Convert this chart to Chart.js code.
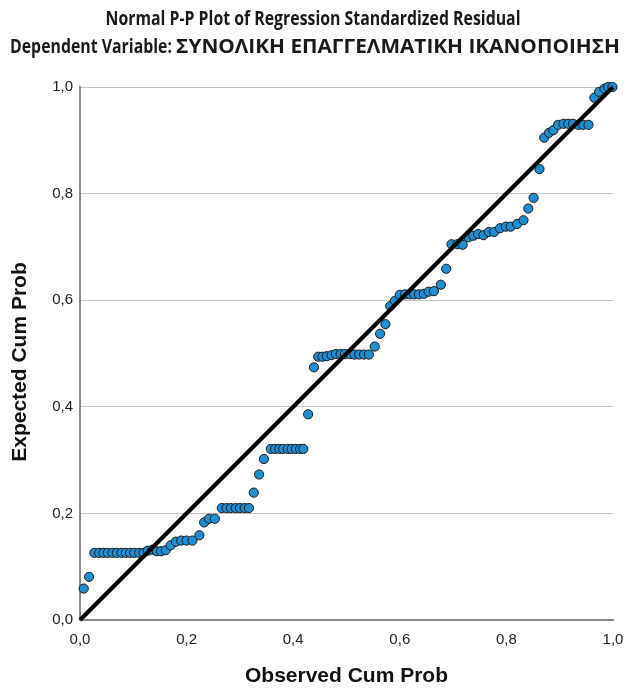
<!DOCTYPE html>
<html>
<head>
<meta charset="utf-8">
<script src="https://cdn.jsdelivr.net/npm/chart.js@4.4.1/dist/chart.umd.min.js"></script>
<style>
  html, body { margin: 0; padding: 0; background: #ffffff; }
  #wrap { width: 627px; height: 688px; position: relative; }
</style>
</head>
<body>
<div id="wrap"><canvas id="c" width="627" height="688"></canvas></div>
<script>
const titleLines = [
  "Normal P-P Plot of Regression Standardized Residual",
  "Dependent Variable: ΣΥΝΟΛΙΚΗ ΕΠΑΓΓΕΛΜΑΤΙΚΗ ΙΚΑΝΟΠΟΙΗΣΗ"
];
const xAxisTitle = "Observed Cum Prob";
const yAxisTitle = "Expected Cum Prob";
const tickValues = [0.0, 0.2, 0.4, 0.6, 0.8, 1.0];

const observedCumProb = [
  0.007, 0.017,
  0.027, 0.036, 0.044, 0.052, 0.061, 0.069, 0.078, 0.086, 0.094, 0.102, 0.111, 0.119,
  0.127, 0.136, 0.144, 0.152, 0.161, 0.170, 0.180, 0.190, 0.200, 0.211, 0.224, 0.233, 0.242, 0.253,
  0.266, 0.275, 0.283, 0.292, 0.300, 0.309, 0.317,
  0.326, 0.336, 0.345,
  0.358, 0.366, 0.374, 0.381, 0.390, 0.397, 0.405, 0.413, 0.419,
  0.428, 0.439,
  0.447, 0.455, 0.463, 0.472, 0.480, 0.489, 0.497, 0.507, 0.515, 0.524, 0.533, 0.542,
  0.553, 0.563, 0.573, 0.582, 0.591,
  0.600, 0.610, 0.619, 0.627, 0.636, 0.645,
  0.654, 0.664, 0.677, 0.687, 0.697, 0.708, 0.718,
  0.729, 0.738, 0.747, 0.757, 0.767, 0.777, 0.788, 0.799, 0.808, 0.820, 0.832,
  0.841, 0.851, 0.862, 0.871,
  0.880, 0.888, 0.897, 0.907, 0.916, 0.925, 0.935, 0.944, 0.954,
  0.965, 0.974, 0.984, 0.991, 0.999
];
const expectedCumProb = [
  0.059, 0.081,
  0.126, 0.126, 0.126, 0.126, 0.126, 0.126, 0.126, 0.126, 0.126, 0.126, 0.126, 0.126,
  0.130, 0.132, 0.129, 0.129, 0.131, 0.140, 0.147, 0.149, 0.149, 0.149, 0.159, 0.183, 0.190, 0.190,
  0.210, 0.210, 0.210, 0.210, 0.210, 0.210, 0.210,
  0.239, 0.273, 0.302,
  0.321, 0.321, 0.321, 0.321, 0.321, 0.321, 0.321, 0.321, 0.321,
  0.386, 0.474,
  0.494, 0.494, 0.495, 0.497, 0.499, 0.499, 0.499, 0.499, 0.498, 0.498, 0.498, 0.498,
  0.513, 0.537, 0.555, 0.589, 0.599,
  0.610, 0.611, 0.611, 0.611, 0.611, 0.612,
  0.616, 0.617, 0.629, 0.659, 0.705, 0.705, 0.704,
  0.718, 0.721, 0.724, 0.722, 0.728, 0.728, 0.735, 0.738, 0.738, 0.743, 0.750,
  0.772, 0.792, 0.846, 0.905,
  0.914, 0.919, 0.929, 0.931, 0.931, 0.931, 0.929, 0.929, 0.929,
  0.980, 0.991, 0.997, 1.000, 1.000
];
const diagonalX = [0, 1];
const diagonalY = [0, 1];

const points = observedCumProb.map((x, i) => ({ x: x, y: expectedCumProb[i] }));
const diagonal = diagonalX.map((x, i) => ({ x: x, y: diagonalY[i] }));
const fmt = v => Number(v).toFixed(1).replace('.', ',');

// Draws the two-line chart title and the vertical axis title as canvas text.
const textPlugin = {
  id: 'textPlugin',
  afterDraw(chart) {
    const ctx = chart.ctx;
    ctx.save();
    ctx.fillStyle = '#1a1a1a';
    ctx.textBaseline = 'alphabetic';
    ctx.textAlign = 'left';
    ctx.font = 'bold 19px "Open Sans"';

    // line 1 : condensed latin
    const l1 = titleLines[0];
    const l1W = 415;
    const latinScale = l1W / ctx.measureText(l1).width;
    ctx.save();
    ctx.translate(313 - l1W / 2, 25);
    ctx.scale(latinScale, 1);
    ctx.fillText(l1, 0, 0);
    ctx.restore();

    // line 2 : latin prefix + wider greek part
    const l2 = titleLines[1];
    const cut = l2.indexOf(':') + 2;
    const prefix = l2.slice(0, cut);
    const greek = l2.slice(cut);
    const prefixW = ctx.measureText(prefix).width * latinScale;
    const x0 = 10, x1 = 620;
    ctx.save();
    ctx.translate(x0, 53);
    ctx.scale(latinScale, 1);
    ctx.fillText(prefix, 0, 0);
    ctx.restore();
    const greekScale = (x1 - x0 - prefixW) / ctx.measureText(greek).width;
    ctx.save();
    ctx.translate(x0 + prefixW, 53);
    ctx.scale(greekScale, 1);
    ctx.fillText(greek, 0, 0);
    ctx.restore();

    // y axis title
    ctx.fillStyle = '#111111';
    ctx.font = 'bold 21px "Liberation Sans"';
    ctx.textAlign = 'center';
    ctx.textBaseline = 'middle';
    ctx.translate(20, 362);
    ctx.rotate(-Math.PI / 2);
    ctx.fillText(yAxisTitle, 0, 0);
    ctx.restore();
  }
};

new Chart(document.getElementById('c'), {
  type: 'scatter',
  data: {
    datasets: [
      {
        type: 'line',
        data: diagonal,
        borderColor: '#000000',
        borderWidth: 4,
        pointRadius: 0,
        fill: false,
        order: 0,
        clip: false
      },
      {
        type: 'scatter',
        data: points,
        backgroundColor: '#1f8dd0',
        borderColor: '#1a1a1a',
        borderWidth: 1,
        pointRadius: 4.6,
        order: 1,
        clip: false
      }
    ]
  },
  plugins: [textPlugin],
  options: {
    responsive: false,
    animation: false,
    devicePixelRatio: 1,
    layout: { padding: { left: 0, right: 14, top: 87, bottom: 0 } },
    plugins: {
      legend: { display: false },
      tooltip: { enabled: false },
      title: { display: false }
    },
    scales: {
      x: {
        type: 'linear',
        min: 0, max: 1,
        afterFit: s => { s.height = 68; s.paddingRight = 0; s.paddingLeft = 0; },
        afterBuildTicks: s => { s.ticks = tickValues.map(v => ({ value: v })); },
        grid: { display: false, drawTicks: false },
        border: { display: true, color: '#8a8a8a', width: 2 },
        ticks: {
          color: '#222222',
          padding: 11,
          maxRotation: 0,
          font: { family: 'Liberation Sans', size: 15 },
          callback: v => fmt(v)
        },
        title: {
          display: true,
          text: xAxisTitle,
          color: '#111111',
          font: { family: 'Liberation Sans', weight: 'bold', size: 21, lineHeight: 1 },
          padding: { top: 0, bottom: 1 }
        }
      },
      y: {
        type: 'linear',
        min: 0, max: 1,
        afterFit: s => { s.width = 80; s.paddingTop = 0; s.paddingBottom = 0; },
        afterBuildTicks: s => { s.ticks = tickValues.map(v => ({ value: v })); },
        grid: { display: true, drawTicks: false, color: '#c4c4c4', lineWidth: 1 },
        border: { display: true, color: '#8a8a8a', width: 2 },
        ticks: {
          color: '#222222',
          padding: 7,
          font: { family: 'Liberation Sans', size: 15 },
          callback: v => fmt(v)
        },
        title: { display: false }
      }
    }
  }
});
</script>
</body>
</html>
